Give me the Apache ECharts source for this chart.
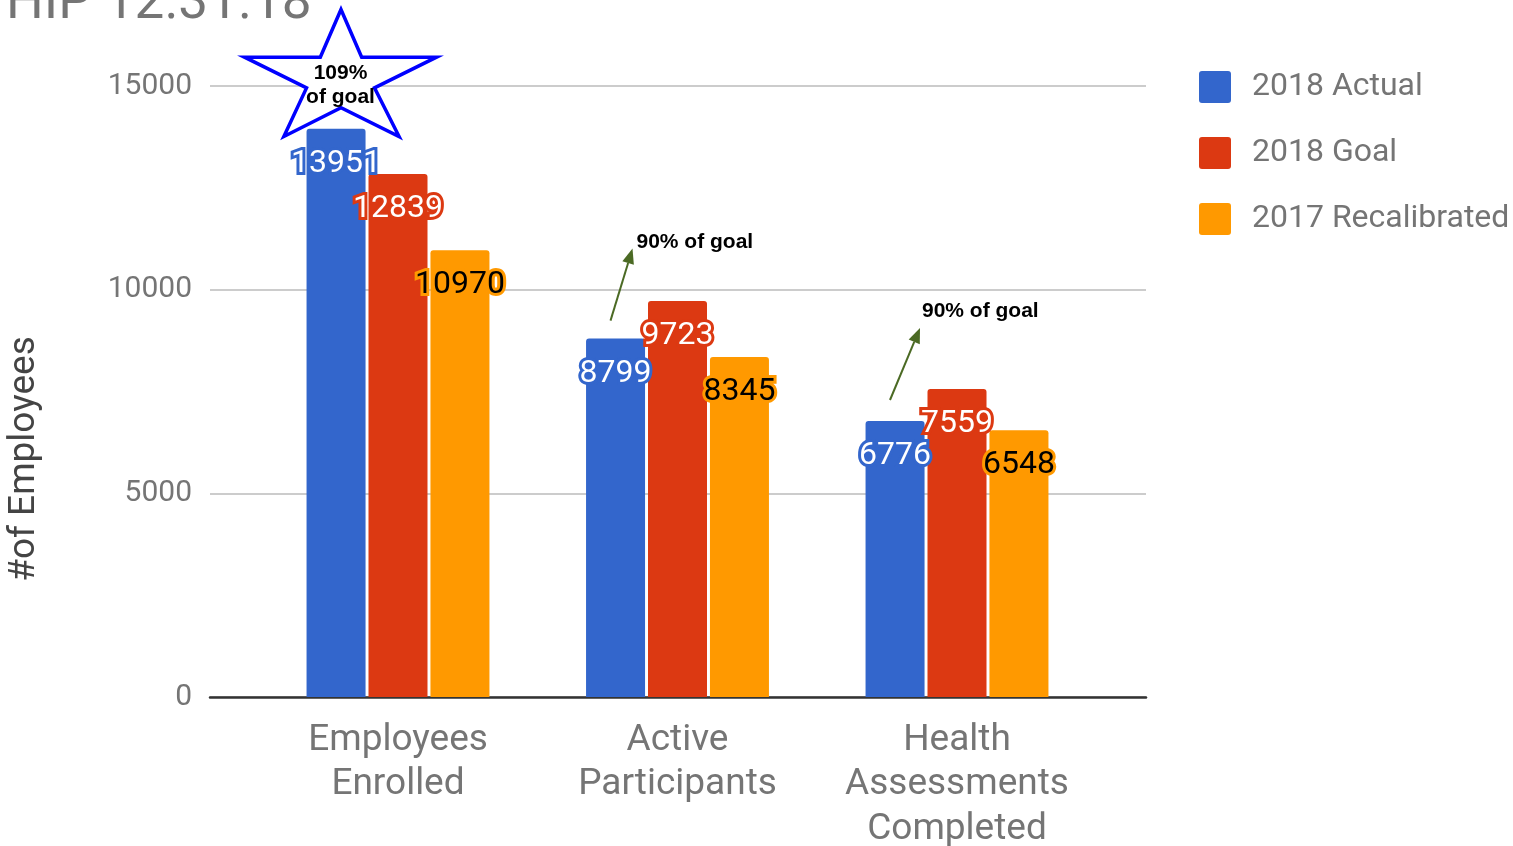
<!DOCTYPE html>
<html><head><meta charset="utf-8">
<script src="https://cdn.jsdelivr.net/npm/echarts@6/dist/echarts.min.js"></script>
<style>html,body{margin:0;padding:0;background:#fff}#c{width:1513px;height:846px}</style>
</head><body><div id="c"></div>
<script>
const categories = ['Employees\nEnrolled', 'Active\nParticipants', 'Health\nAssessments\nCompleted'];
const seriesNames = ['2018 Actual', '2018 Goal', '2017 Recalibrated'];
const actual2018 = [13951, 8799, 6776];
const goal2018 = [12839, 9723, 7559];
const recal2017 = [10970, 8345, 6548];
const yMin = 0, yMax = 15000, yInterval = 5000;
const titleText = 'HIP 12.31.18';
const yAxisTitle = '#of Employees';
const starNote = ['109%', 'of goal'];
const arrowNotes = ['90% of goal', '90% of goal'];

const colors = ['#3366cc', '#dc3912', '#ff9900'];
const labelText = ['#ffffff', '#ffffff', '#000000'];
const FONT = 'Roboto';
const chart = echarts.init(document.getElementById('c'), null, {renderer: 'canvas'});

function barSeries(i, data) {
  return {
    name: seriesNames[i], type: 'bar', xAxisIndex: 0, yAxisIndex: 0,
    data: data, barWidth: 59, barGap: '5%',
    itemStyle: {color: colors[i], borderRadius: [3, 3, 0, 0]},
    label: {show: true, position: 'insideTop', distance: 19,
      fontFamily: FONT, fontSize: 32, color: labelText[i],
      textBorderColor: colors[i], textBorderWidth: 6},
    z: 3
  };
}

const option = {
  animation: false,
  textStyle: {fontFamily: FONT},
  color: colors,
  title: {text: titleText, left: 1, top: -27,
    textStyle: {fontFamily: FONT, fontSize: 53, fontWeight: 'normal', color: '#757575'}},
  legend: {orient: 'vertical', left: 1194, top: 66, itemWidth: 32, itemHeight: 32, itemGap: 34,
    icon: 'path://M3,0 L29,0 Q32,0 32,3 L32,29 Q32,32 29,32 L3,32 Q0,32 0,29 L0,3 Q0,0 3,0 Z',
    data: seriesNames,
    textStyle: {fontFamily: FONT, fontSize: 32, color: '#757575', padding: [0, 0, 0, 16]}},
  grid: [
    {left: 258.25, width: 838.5, top: 86, bottom: 149, outerBoundsMode: 'none', containLabel: false},
    {left: 210, right: 367, top: 86, bottom: 149, outerBoundsMode: 'none', containLabel: false}
  ],
  xAxis: [
    {type: 'category', gridIndex: 0, data: categories,
      axisLine: {show: false}, axisTick: {show: false},
      axisLabel: {interval: 0, hideOverlap: false, margin: 21, fontFamily: FONT, fontSize: 37,
        lineHeight: 44.5, color: '#757575'}},
    {type: 'value', gridIndex: 1, min: 0, max: 1, show: true,
      axisLine: {show: true, onZero: false, lineStyle: {color: '#333333', width: 2.5}},
      axisTick: {show: false}, axisLabel: {show: false}, splitLine: {show: false}}
  ],
  yAxis: [
    {type: 'value', gridIndex: 0, min: yMin, max: yMax, interval: yInterval,
      axisLine: {show: false}, axisTick: {show: false}, axisLabel: {show: false}, splitLine: {show: false}},
    {type: 'value', gridIndex: 1, min: yMin, max: yMax, interval: yInterval,
      axisLine: {show: false}, axisTick: {show: false},
      axisLabel: {margin: 18, fontFamily: FONT, fontSize: 30, color: '#757575',
        formatter: v => String(v)},
      splitLine: {show: true, lineStyle: {color: '#cccccc', width: 2}}}
  ],
  series: [barSeries(0, actual2018), barSeries(1, goal2018), barSeries(2, recal2017)]
};
chart.setOption(option);

const graphics = [];
// y-axis title
graphics.push({type: 'text', silent: true, x: 25, y: 459, rotation: Math.PI / 2,
  style: {text: yAxisTitle, fill: '#444444', font: '37px Roboto', textAlign: 'center', textVerticalAlign: 'middle'}});

// star annotation above the first 2018 Actual bar
(function () {
  const p = chart.convertToPixel({gridIndex: 0}, [0, yMax]);
  const cx = p[0] - 57.5, cy = p[1] - 13;
  const pts = [[98,0],[119,48],[195,48],[132,79],[157,128],[98,99],[40,128],[63,79],[0,48],[77,48]];
  const sx = 192 / 195, sy = 127 / 128;
  const poly = pts.map(q => [cx + (q[0] - 97.5) * sx, cy + (q[1] - 64) * sy]);
  graphics.push({type: 'polygon', silent: true, z: 20, shape: {points: poly},
    style: {fill: '#ffffff', stroke: '#0000ff', lineWidth: 3.5, lineJoin: 'miter'}});
  graphics.push({type: 'text', silent: true, z: 21, x: cx, y: cy + 12,
    style: {text: starNote.join('\n'), fill: '#000', font: 'bold 21px "Liberation Sans", Arial',
      lineHeight: 24, textAlign: 'center', textVerticalAlign: 'middle'}});
})();

// annotation arrows anchored to the 2018 Actual bars of categories 1 and 2
const arrowColor = '#4b6a24';
const arrowSpecs = [
  {cat: 1, val: actual2018[1], dx0: -5, dy0: -18, dx1: 22, dy1: -72, tx: 26, ty: -78},
  {cat: 2, val: actual2018[2], dx0: -5, dy0: -21, dx1: 30, dy1: -72, tx: 32, ty: -89}
];
arrowSpecs.forEach((a, k) => {
  const p = chart.convertToPixel({gridIndex: 0}, [a.cat, a.val]);
  const bx = p[0] - 62, by = p[1];
  const x0 = bx + a.dx0, y0 = by + a.dy0;
  const x1 = x0 + a.dx1, y1 = y0 + a.dy1;
  const ang = Math.atan2(y1 - y0, x1 - x0);
  const L = 15, W = 6;
  const bxh = x1 - L * Math.cos(ang), byh = y1 - L * Math.sin(ang);
  const nx = -Math.sin(ang), ny = Math.cos(ang);
  graphics.push({type: 'line', silent: true, z: 20,
    shape: {x1: x0, y1: y0, x2: bxh, y2: byh}, style: {stroke: arrowColor, lineWidth: 2}});
  graphics.push({type: 'polygon', silent: true, z: 20,
    shape: {points: [[x1, y1], [bxh + nx * W, byh + ny * W], [bxh - nx * W, byh - ny * W]]},
    style: {fill: arrowColor}});
  graphics.push({type: 'text', silent: true, z: 20, x: x0 + a.tx, y: y0 + a.ty,
    style: {text: arrowNotes[k], fill: '#000', font: 'bold 21px "Liberation Sans", Arial',
      textVerticalAlign: 'middle', textAlign: 'left'}});
});
chart.setOption({graphic: graphics});
</script>
</body></html>
